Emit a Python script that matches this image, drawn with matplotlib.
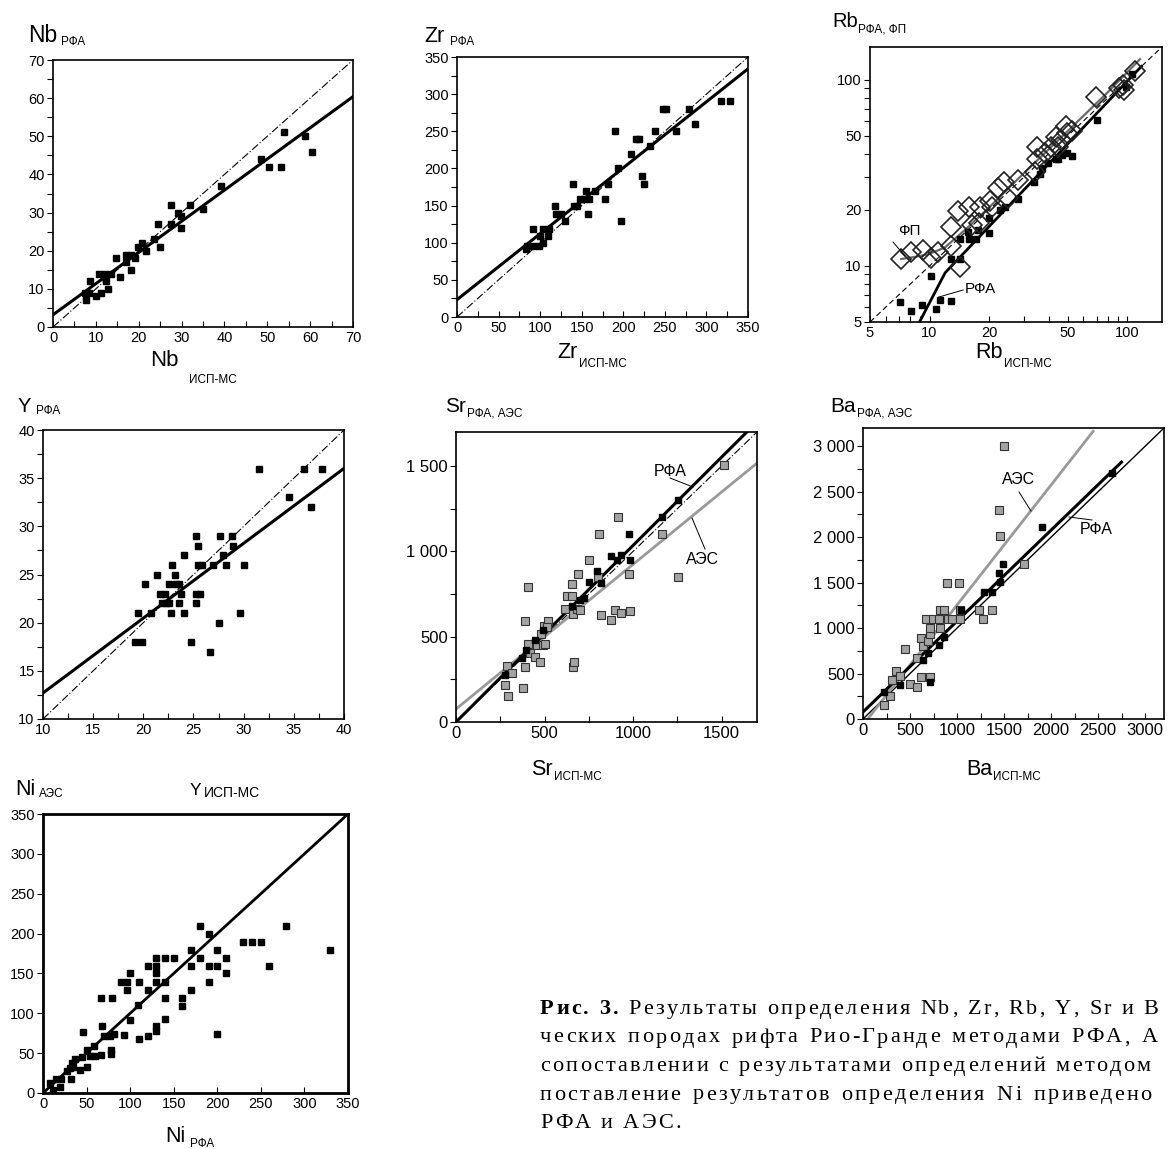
import numpy as np
import matplotlib
matplotlib.use("Agg")
import matplotlib.pyplot as plt
from matplotlib.ticker import MultipleLocator, FixedLocator, NullFormatter, FixedFormatter

plt.rcParams['font.family'] = ['Liberation Sans', 'DejaVu Sans']

W, H = 1169, 1149

# ---------------- данные ----------------
# Nb: ИСП-МС / РФА
nb_x = [7.4, 7.6, 8.7, 8.5, 10, 10.7, 11.1, 11.8, 12.1, 12.3, 12.8, 13.6, 14.7, 15.6, 17.1, 17.1,
        18.2, 18.2, 19.2, 19.9, 20.8, 21.7, 23.5, 24.4, 25, 27.5, 27.6, 29.2, 29.9, 29.9, 32, 34.9,
        39.1, 48.6, 50.3, 53.1, 53.9, 58.8, 60.5]
nb_y = [9, 7, 12, 9, 8, 14, 9, 13, 14, 12, 10, 14, 18, 13, 17, 19,
        15, 19, 18, 21, 22, 20, 23, 27, 21, 27, 32, 30, 29, 26, 32, 31,
        37, 44, 42, 42, 51, 50, 46]
nb_fit = (0.817, 3.2)   # наклон, свободный член

# Zr
zr_x = [83, 84, 91, 92, 99, 100, 103, 103, 109, 111, 118, 119, 125, 130, 140, 141, 144, 148,
        153, 155, 158, 159, 166, 178, 182, 190, 194, 197, 209, 215, 219, 222, 225, 232, 238,
        248, 251, 263, 279, 286, 317, 328]
zr_y = [91, 95, 95, 119, 95, 109, 119, 100, 109, 119, 149, 139, 139, 129, 179, 149, 149, 159,
        159, 170, 139, 159, 170, 159, 179, 250, 200, 129, 220, 240, 240, 190, 179, 230, 250,
        280, 280, 250, 280, 260, 291, 291]
zr_fit = (0.888, 23.3)

# Rb: РФА (чёрные квадраты) и ФП (ромбы)
rb_xrf_x = [7.1, 8.1, 9.2, 10.2, 10.8, 11.3, 12.8, 12.8, 14.2, 14.2, 15.7, 15.8, 17.1, 17.5, 20,
            20.1, 22.8, 24.1, 27.9, 33.7, 36.4, 37, 39.8, 43.4, 44.7, 46.6, 49.8, 52.8, 70.3,
            98.8, 106]
rb_xrf_y = [6.4, 5.7, 6.2, 8.8, 5.9, 6.6, 10.9, 6.5, 13.9, 10.9, 15.3, 13.9, 13.9, 15.6, 18,
            15, 20, 20.8, 22.9, 28.1, 31.2, 33.5, 35.7, 37.4, 37.4, 39.4, 40.6, 39.2, 60.9,
            92, 108]
rb_fp_x = [7.2, 8.1, 9.3, 10.2, 11.1, 12.8, 12.8, 14.0, 14.2, 15.8, 16.4, 17.7, 18.0, 20.2, 20.6,
           22.3, 23.7, 24.9, 28.0, 34.0, 35.0, 35.0, 38.6, 41.4, 43.8, 44.7, 46, 48.9, 49.8, 52.8,
           69.5, 90.6, 95, 96.7, 109]
rb_fp_y = [10.9, 11.9, 12.2, 11.0, 11.9, 12.8, 16.1, 19.8, 9.9, 20.8, 16.6, 17.0, 20.8, 22.2, 20.8,
           26.2, 28.4, 23.1, 29.0, 32.1, 43.8, 37.4, 40.6, 43.8, 49.5, 43.8, 47.5, 56.6, 51.7, 52.8,
           81.3, 90.1, 94, 88.3, 111]
rb_fp_line_x = [7.2, 8.5, 10, 12, 15, 20, 30, 50, 80, 116]
rb_fp_line_y = [10.9, 11.2, 11.6, 12.6, 15.5, 20.6, 31.5, 53, 86, 129]
rb_xrf_line_x = [8.9, 12.0, 118]
rb_xrf_line_y = [5.0, 9.2, 118]

# Y
y_x = [19.2, 19.5, 19.9, 20.2, 20.8, 21.4, 21.7, 21.9, 22.2, 22.3, 22.6, 22.6, 22.8, 22.9, 23.2,
       23.3, 23.6, 23.6, 23.8, 24.1, 24.1, 24.8, 25.2, 25.2, 25.2, 25.4, 25.4, 25.6, 25.8, 26.6,
       26.9, 27.5, 27.6, 27.9, 28.2, 28.8, 28.9, 29.6, 30.0, 31.5, 34.5, 36.0, 36.7, 37.8]
y_y = [18, 21, 18, 24, 21, 25, 23, 22, 23, 22, 24, 22, 21, 26, 25,
       24, 24, 22, 23, 27, 21, 18, 29, 22, 23, 28, 26, 23, 26, 17,
       26, 20, 29, 27, 26, 29, 28, 21, 26, 36, 33, 36, 32, 36]
y_fit = (0.777, 4.93)

# Sr: РФА (чёрные) и АЭС (серые)
sr_xrf_x = [274, 372, 397, 444, 490, 656, 703, 722, 750, 797, 820, 877, 911, 930, 977, 983, 1161, 1255]
sr_xrf_y = [277, 375, 420, 482, 540, 678, 717, 727, 820, 883, 814, 971, 951, 980, 1102, 951, 1201, 1303]
sr_aes_x = [274, 287, 295, 316, 376, 388, 391, 405, 405, 420, 444, 457, 476, 480, 495, 491, 505,
            518, 514, 618, 628, 656, 656, 662, 667, 662, 681, 688, 699, 749, 809, 801, 820, 873,
            896, 917, 930, 977, 981, 1161, 1255, 1512]
sr_aes_y = [219, 330, 150, 287, 199, 320, 592, 789, 459, 404, 379, 453, 350, 518, 564, 453, 459,
            594, 557, 664, 740, 810, 740, 320, 350, 631, 662, 869, 658, 949, 1100, 850, 629, 600,
            654, 1201, 639, 869, 648, 1100, 850, 1506]
sr_xrf_fit = (1.035, 0.0)
sr_aes_fit = (0.848, 76.0)

# Ba
ba_xrf_x = [220, 390, 638, 691, 809, 858, 716, 1046, 1284, 1376, 1447, 1461, 1489, 1908, 2642]
ba_xrf_y = [298, 379, 654, 728, 812, 904, 404, 1199, 1401, 1401, 1603, 1507, 1702, 2107, 2706]
ba_aes_x = [220, 291, 312, 355, 390, 443, 504, 574, 574, 621, 621, 638, 674, 691, 709, 716, 709,
            745, 809, 823, 858, 823, 894, 904, 950, 1018, 1028, 1028, 1234, 1277, 1376, 1447,
            1461, 1496, 1709]
ba_aes_y = [151, 250, 434, 526, 471, 765, 390, 353, 673, 463, 893, 801, 1103, 857, 930, 1004, 463,
            1103, 1103, 1199, 1199, 1004, 1500, 1103, 1103, 1500, 1199, 1103, 1199, 1103, 1199,
            2301, 2007, 3007, 1702]
ba_xrf_fit = (1.0, 77.0)
ba_xrf_range = (0, 2748)
ba_aes_fit = (1.32, -66.0)
ba_aes_range = (50, 2447)

# Ni: РФА / АЭС
ni_x = [8.4, 12, 15, 20, 21, 28, 31, 32, 33, 34, 37, 43, 45, 46, 50, 50, 54, 58, 60, 66, 66, 68,
        70, 77, 79, 78, 78, 82, 90, 93, 96, 96, 100, 100, 109, 110, 110, 121, 121, 121, 130, 130,
        130, 130, 130, 130, 140, 140, 140, 140, 150, 160, 160, 170, 170, 170, 180, 180, 190, 190,
        190, 200, 200, 200, 210, 210, 230, 240, 250, 259, 279, 329]
ni_y = [13, 4, 18, 8, 17, 27, 31, 17, 38, 33, 43, 29, 45, 77, 54, 33, 47, 59, 46, 48, 119, 84,
        71, 72, 119, 54, 49, 74, 139, 73, 139, 129, 150, 91, 110, 139, 68, 159, 129, 72, 169, 159,
        150, 139, 84, 78, 169, 139, 119, 93, 169, 119, 109, 179, 159, 129, 209, 169, 199, 159,
        139, 179, 159, 74, 169, 150, 189, 189, 189, 159, 209, 179]

caption = [
    ("Рис. 3.", " Результаты определения Nb, Zr, Rb, Y, Sr и Ba в вулкани-"),
    ("", "ческих породах рифта Рио-Гранде методами РФА, АЭС и ФП в"),
    ("", "сопоставлении с результатами определений методом ИСП-МС. Со-"),
    ("", "поставление результатов определения Ni приведено для методов"),
    ("", "РФА и АЭС."),
]
caption_extra_space = [0, 1.6, 0, 2.2, 0]   # выключка строк по ширине

# ---------------- рисунок ----------------
fig = plt.figure(figsize=(W / 100, H / 100), dpi=100)
renderer = fig.canvas.get_renderer()


def make_ax(x0, y0, x1, y1, lw=1.2, ls=10.5):
    ax = fig.add_axes([x0 / W, 1 - y1 / H, (x1 - x0) / W, (y1 - y0) / H])
    for s in ax.spines.values():
        s.set_linewidth(lw)
    ax.tick_params(axis='x', which='both', direction='in', length=4, width=0.8, labelsize=ls, pad=3)
    ax.tick_params(axis='y', which='both', direction='out', length=4, width=0.8, labelsize=ls, pad=2)
    return ax


def label(x, y, main, sub, size=15, subsize=8.5, gap=4, dy=4):
    t = fig.text(x / W, 1 - y / H, main, fontsize=size, va='baseline', ha='left')
    bb = t.get_window_extent(renderer)
    fig.text((bb.x1 + gap) / W, 1 - (y + dy) / H, sub, fontsize=subsize, va='baseline', ha='left')


sq = dict(ls='none', marker='s', ms=4.8, color='black')
gsq = dict(ls='none', marker='s', ms=5.2, mfc='#a3a3a3', mec='#333333', mew=0.8)
diag = dict(color='black', lw=0.8, ls=(0, (7, 2, 1, 2)))


def linear(ax, fit, xr, **kw):
    xs = np.array(xr, dtype=float)
    ax.plot(xs, fit[0] * xs + fit[1], **kw)


# Nb
ax = make_ax(53, 60, 353, 327)
ax.set_xlim(0, 70); ax.set_ylim(0, 70)
ax.xaxis.set_major_locator(MultipleLocator(10)); ax.xaxis.set_minor_locator(MultipleLocator(5))
ax.yaxis.set_major_locator(MultipleLocator(10)); ax.yaxis.set_minor_locator(MultipleLocator(5))
ax.plot([0, 70], [0, 70], **diag)
linear(ax, nb_fit, [0, 70], color='black', lw=2.2)
ax.plot(nb_x, nb_y, **sq)
label(28, 42, "Nb", "РФА", size=16.5, gap=4, dy=3)
label(150, 366, "Nb", "ИСП-МС", size=16, gap=10, dy=17)

# Zr
ax = make_ax(457, 57, 748, 317)
ax.set_xlim(0, 350); ax.set_ylim(0, 350)
for a in (ax.xaxis, ax.yaxis):
    a.set_major_locator(MultipleLocator(50)); a.set_minor_locator(MultipleLocator(25))
ax.plot([0, 350], [0, 350], **diag)
linear(ax, zr_fit, [0, 350], color='black', lw=2.2)
ax.plot(zr_x, zr_y, **sq)
label(424, 42, "Zr", "РФА", size=15.5, gap=6, dy=3)
label(557, 358, "Zr", "ИСП-МС", size=15.5, gap=2, dy=9)

# Rb (log)
ax = make_ax(870, 47, 1162, 322)
ax.set_xscale('log'); ax.set_yscale('log')
ax.set_xlim(5, 150); ax.set_ylim(5, 150)
majors = [5, 10, 20, 50, 100]
minors = [6, 7, 8, 9, 30, 40, 60, 70, 80, 90]
for a in (ax.xaxis, ax.yaxis):
    a.set_major_locator(FixedLocator(majors))
    a.set_major_formatter(FixedFormatter([str(m) for m in majors]))
    a.set_minor_locator(FixedLocator(minors))
    a.set_minor_formatter(NullFormatter())
ax.plot([5, 150], [5, 150], color='black', lw=0.8, ls=(0, (5, 3)))
ax.plot(rb_fp_line_x, rb_fp_line_y, color='#6a6a6a', lw=1.6)
ax.plot(rb_xrf_line_x, rb_xrf_line_y, color='black', lw=2.0)
ax.plot(rb_xrf_x, rb_xrf_y, ls='none', marker='s', ms=4.4, color='black')
ax.plot(rb_fp_x, rb_fp_y, ls='none', marker='D', ms=10.5, mfc='none', mec='#222222', mew=1.2)
ax.text(898 / W, 1 - 235 / H, "ФП", transform=fig.transFigure, fontsize=11, va='baseline')
ax.plot([893 / W, 905 / W], [1 - 242 / H, 1 - 256 / H], transform=fig.transFigure,
        color='black', lw=0.7, clip_on=False)
ax.text(965 / W, 1 - 293 / H, "РФА", transform=fig.transFigure, fontsize=11, va='baseline')
ax.plot([963 / W, 939 / W], [1 - 290 / H, 1 - 297 / H], transform=fig.transFigure,
        color='black', lw=0.7, clip_on=False)
label(832, 27, "Rb", "РФА, ФП", size=14.5, gap=0, dy=5)
label(975, 358, "Rb", "ИСП-МС", size=15.5, gap=2, dy=9)

# Y
ax = make_ax(43, 430, 344, 719)
ax.set_xlim(10, 40); ax.set_ylim(10, 40)
for a in (ax.xaxis, ax.yaxis):
    a.set_major_locator(MultipleLocator(5)); a.set_minor_locator(MultipleLocator(2.5))
ax.plot([10, 40], [10, 40], **diag)
linear(ax, y_fit, [10, 40], color='black', lw=2.2)
ax.plot(y_x, y_y, **sq)
label(18, 412, "Y", "РФА", size=14.5, gap=5, dy=2)

# Sr
ax = make_ax(456, 432, 757, 722, ls=12)
ax.set_xlim(0, 1700); ax.set_ylim(0, 1700)
for a in (ax.xaxis, ax.yaxis):
    a.set_major_locator(MultipleLocator(500)); a.set_minor_locator(MultipleLocator(250))
ax.yaxis.set_major_locator(FixedLocator([0, 500, 1000, 1500]))
ax.yaxis.set_major_formatter(FixedFormatter(["0", "500", "1 000", "1 500"]))
ax.plot([0, 1700], [0, 1700], **diag)
linear(ax, sr_aes_fit, [0, 1700], color='#9a9a9a', lw=2.0)
linear(ax, sr_xrf_fit, [0, 1700], color='black', lw=2.2)
ax.plot(sr_aes_x, sr_aes_y, **gsq)
ax.plot(sr_xrf_x, sr_xrf_y, **sq)
ax.text(654 / W, 1 - 476 / H, "РФА", transform=fig.transFigure, fontsize=11.5, va='baseline')
ax.plot([670 / W, 693 / W], [1 - 478 / H, 1 - 487 / H], transform=fig.transFigure,
        color='black', lw=0.7)
ax.text(686 / W, 1 - 564 / H, "АЭС", transform=fig.transFigure, fontsize=11.5, va='baseline')
ax.plot([692 / W, 705 / W], [1 - 518 / H, 1 - 549 / H], transform=fig.transFigure,
        color='black', lw=0.7)
label(445, 412, "Sr", "РФА, АЭС", size=15, gap=1, dy=5)
label(531, 775, "Sr", "ИСП-МС", size=15.5, gap=1, dy=5)

# Ba
ax = make_ax(863, 428, 1164, 719, ls=12)
ax.set_xlim(0, 3200); ax.set_ylim(0, 3200)
for a in (ax.xaxis, ax.yaxis):
    a.set_major_locator(MultipleLocator(500)); a.set_minor_locator(MultipleLocator(250))
ax.yaxis.set_major_locator(FixedLocator([0, 500, 1000, 1500, 2000, 2500, 3000]))
ax.yaxis.set_major_formatter(FixedFormatter(["0", "500", "1 000", "1 500", "2 000", "2 500", "3 000"]))
ax.plot([0, 3200], [0, 3200], color='black', lw=1.0)
linear(ax, ba_aes_fit, ba_aes_range, color='#9a9a9a', lw=2.0)
linear(ax, ba_xrf_fit, ba_xrf_range, color='black', lw=2.2)
ax.plot(ba_aes_x, ba_aes_y, **gsq)
ax.plot(ba_xrf_x, ba_xrf_y, **sq)
ax.text(1002 / W, 1 - 484 / H, "АЭС", transform=fig.transFigure, fontsize=11.5, va='baseline')
ax.plot([1019 / W, 1031 / W], [1 - 492 / H, 1 - 511 / H], transform=fig.transFigure,
        color='black', lw=0.7)
ax.text(1080 / W, 1 - 534 / H, "РФА", transform=fig.transFigure, fontsize=11.5, va='baseline')
ax.plot([1069 / W, 1092 / W], [1 - 517 / H, 1 - 520 / H], transform=fig.transFigure,
        color='black', lw=0.7)
label(830, 412, "Ba", "РФА, АЭС", size=15, gap=1, dy=5)
label(966, 775, "Ba", "ИСП-МС", size=15.5, gap=1, dy=5)

# Ni
ax = make_ax(43, 814, 348, 1093, lw=2.0)
ax.set_xlim(0, 350); ax.set_ylim(0, 350)
for a in (ax.xaxis, ax.yaxis):
    a.set_major_locator(MultipleLocator(50))
ax.plot([0, 350], [0, 350], color='black', lw=2.0)
ax.plot(ni_x, ni_y, **sq)
label(15, 795, "Ni", "АЭС", size=15.5, gap=4, dy=2)
label(190, 795, "Y", "ИСП-МС", size=12.5, gap=2, dy=2, subsize=10)
label(165, 1142, "Ni", "РФА", size=15.5, gap=5, dy=5)

# подпись: разреженный набор; то, что не помещается справа, не выводится
cap_size = 16
track = 2.3
space_w = 5.6


def tracked(x, y, s, weight='normal', extra=0.0):
    for ch in s:
        if ch == ' ':
            x += space_w + track + extra
            continue
        t = fig.text(x / W, 1 - y / H, ch, family='Liberation Serif', fontsize=cap_size,
                     fontweight=weight, va='baseline')
        x1 = t.get_window_extent(renderer).x1
        if x1 > W - 1:
            t.remove()
            break
        x = x1 + track
    return x


cy = 1014
for (bold, rest), extra in zip(caption, caption_extra_space):
    x = 540
    if bold:
        x = tracked(x, cy, bold, weight='bold')
    tracked(x, cy, rest, extra=extra)
    cy += 28.5

fig.savefig("out.png", dpi=100)
